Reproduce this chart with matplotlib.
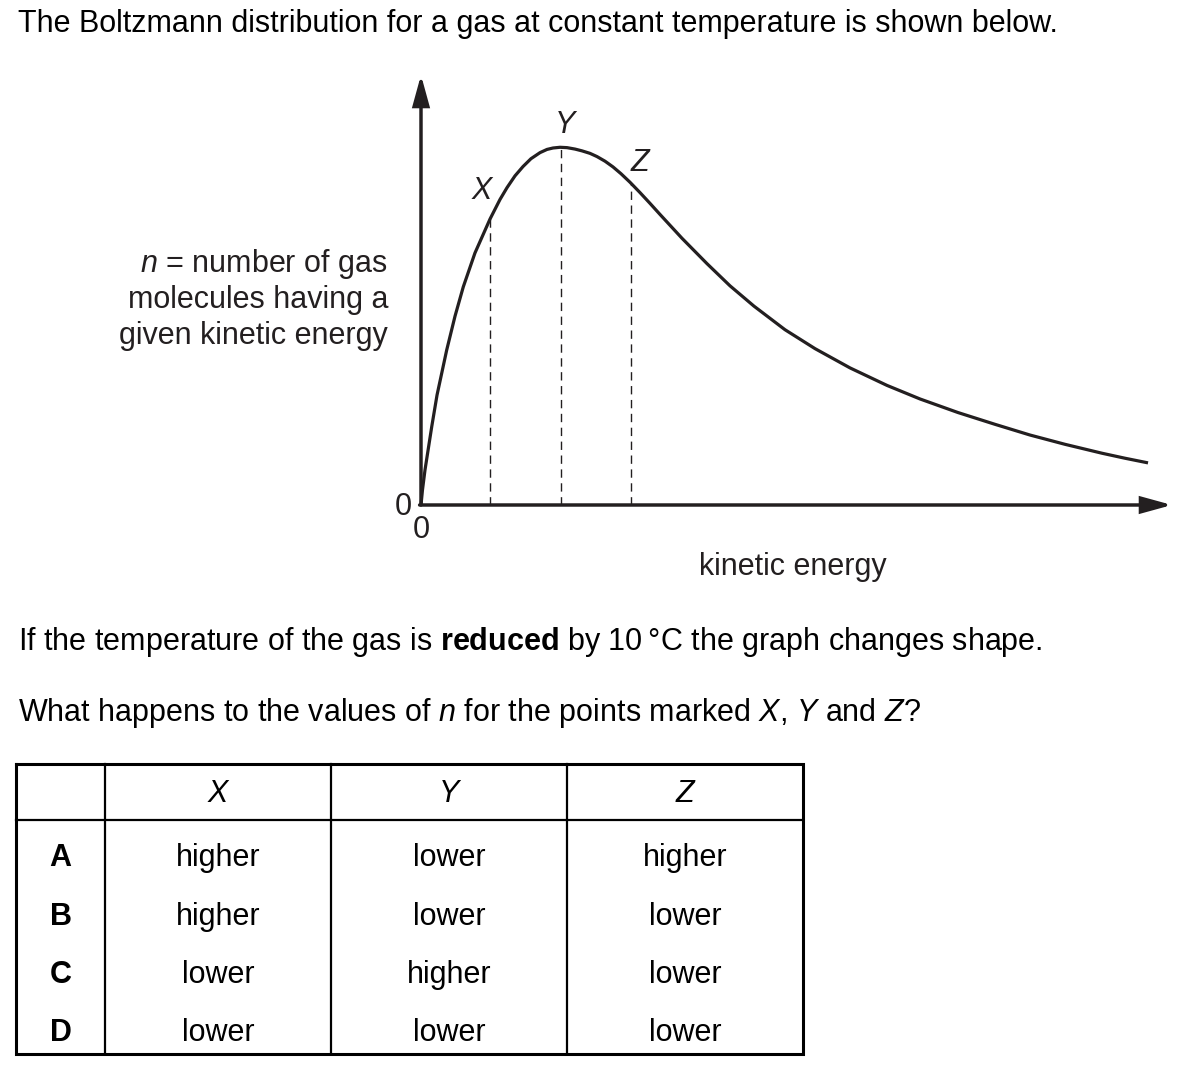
import matplotlib as mpl
from matplotlib import pyplot as plt

# curve (arbitrary units)
energy = [0.0, 0.021, 0.057, 0.153, 0.229, 0.367, 0.486, 0.604, 0.771, 0.986,
          1.129, 1.229, 1.343, 1.457, 1.571, 1.7, 1.8, 1.886, 1.986, 2.086,
          2.2, 2.3, 2.414, 2.514, 2.629, 2.743, 2.857, 2.986, 3.129, 3.271,
          3.414, 3.729, 4.086, 4.414, 4.757, 5.2, 5.629, 6.129, 6.657, 7.129,
          7.671, 8.2, 8.7, 9.2, 9.729, 10.057, 10.386]
n_count = [0.0, 0.42, 0.98, 2.19, 3.08, 4.34, 5.29, 6.11, 7.06, 8.01,
           8.56, 8.89, 9.22, 9.48, 9.7, 9.87, 9.96, 10.0, 10.02, 10.01,
           9.97, 9.92, 9.85, 9.76, 9.63, 9.47, 9.28, 9.04, 8.75, 8.45,
           8.14, 7.47, 6.76, 6.14, 5.57, 4.91, 4.38, 3.84, 3.35, 2.97,
           2.59, 2.26, 1.96, 1.7, 1.45, 1.31, 1.18]

point_labels = ["X", "Y", "Z"]
point_energy = [0.99, 2.0, 3.0]
point_n = [8.02, 10.02, 9.01]

table_cols = ["X", "Y", "Z"]
table_rows = ["A", "B", "C", "D"]
col_x = ["higher", "higher", "lower", "lower"]
col_y = ["lower", "lower", "higher", "lower"]
col_z = ["higher", "lower", "lower", "lower"]

W, H = 1182, 1068
INK = "#231f20"
FS = 22

plt.rcParams["font.family"] = ["Liberation Sans", "DejaVu Sans"]
plt.rcParams["mathtext.fontset"] = "custom"
plt.rcParams["mathtext.rm"] = "Liberation Sans"
plt.rcParams["mathtext.it"] = "Liberation Sans:italic"
plt.rcParams["mathtext.bf"] = "Liberation Sans:bold"

fig = plt.figure(figsize=(W / 100, H / 100), dpi=100)

# page layer in pixel coordinates for text and table
page = fig.add_axes([0, 0, 1, 1])
page.set_xlim(0, W)
page.set_ylim(H, 0)
page.axis("off")

# graph axes: origin at pixel (421, 505), 70 px per energy unit, 35.7 px per n unit
ox, oy, sx, sy = 421, 505, 70.0, 35.7
L, R, T, B = 381, 1182, 60, 545
ax = fig.add_axes([L / W, 1 - B / H, (R - L) / W, (B - T) / H])
ax.set_xlim((L - ox) / sx, (R - ox) / sx)
ax.set_ylim((oy - B) / sy, (oy - T) / sy)
ax.axis("off")
ax.patch.set_alpha(0)

x_end = (1172 - ox) / sx
y_end = (oy - 75) / sy
arrow = dict(arrowstyle="-|>,head_length=1.2,head_width=0.33", mutation_scale=15,
             lw=2.5, color=INK, shrinkA=0, shrinkB=0, joinstyle="miter")
ax.annotate("", xy=(0, y_end), xytext=(0, 0), arrowprops=arrow, annotation_clip=False)
ax.annotate("", xy=(x_end, 0), xytext=(-0.02, 0), arrowprops=arrow, annotation_clip=False)

ax.plot(energy, n_count, color=INK, lw=2.3, solid_joinstyle="round",
        solid_capstyle="butt")
ax.vlines(point_energy, 0, point_n, colors=INK, lw=1.0, linestyles=(0, (6, 4)))

offsets = [(-9, 20), (4, 14), (9, 12)]
for lab, e, v, off in zip(point_labels, point_energy, point_n, offsets):
    ax.annotate(lab, xy=(e, v), xytext=off, textcoords="offset pixels",
                ha="center", va="baseline", fontsize=FS, style="italic", color=INK)

ax.text(-18 / sx, -10 / sy, "0", ha="center", va="baseline", fontsize=FS, color=INK)
ax.text(0, -33 / sy, "0", ha="center", va="baseline", fontsize=FS, color=INK)

# texts
page.text(18, 32, "The Boltzmann distribution for a gas at constant temperature is shown below.",
          fontsize=FS, va="baseline", ha="left")
ylab = [r"$\mathit{n}$ = number of gas", "molecules having a", "given kinetic energy"]
for i, line in enumerate(ylab):
    page.text(388, 272 + 36 * i, line, fontsize=FS, ha="right", va="baseline", color=INK)
page.text(793, 575, "kinetic energy", fontsize=FS, ha="center", va="baseline", color=INK)
page.text(18, 650, "If the temperature of the gas is $\\mathbf{reduced}$ by 10\u2009°C the graph changes shape.",
          fontsize=FS, va="baseline", ha="left")
page.text(18, 721, "What happens to the values of $\\mathit{n}$ for the points marked "
          "$\\mathit{X}$, $\\mathit{Y}$ and $\\mathit{Z}$?",
          fontsize=FS, va="baseline", ha="left")

# table
xs = [16, 105, 331, 567, 803]
top, head, bot = 764, 820, 1054
page.plot([xs[0], xs[-1], xs[-1], xs[0], xs[0]], [top, top, bot, bot, top],
          color="black", lw=2.2, solid_joinstyle="miter")
page.plot([xs[0], xs[-1]], [head, head], color="black", lw=1.6)
for x in xs[1:-1]:
    page.plot([x, x], [top, bot], color="black", lw=1.6)

for j, lab in enumerate(table_cols):
    page.text((xs[j + 1] + xs[j + 2]) / 2, 802, lab, fontsize=FS, style="italic",
              ha="center", va="baseline")
row_base = [866, 925, 983, 1041]
for i, lab in enumerate(table_rows):
    yb = row_base[i]
    page.text((xs[0] + xs[1]) / 2, yb, lab, fontsize=FS, weight="bold",
              ha="center", va="baseline")
    for j, col in enumerate([col_x, col_y, col_z]):
        page.text((xs[j + 1] + xs[j + 2]) / 2, yb, col[i], fontsize=FS,
                  ha="center", va="baseline")

fig.savefig("out.png", dpi=100)
plt.close(fig)
